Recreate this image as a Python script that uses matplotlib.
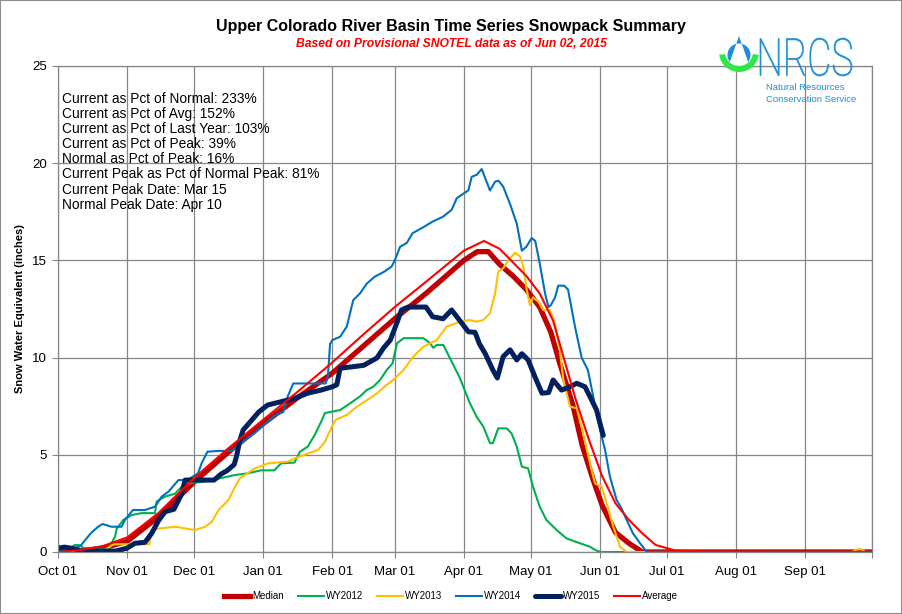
import numpy as np
import matplotlib
matplotlib.use('Agg')
import matplotlib.pyplot as plt
from matplotlib.font_manager import FontProperties
from matplotlib.textpath import TextPath
from matplotlib.patches import PathPatch, Rectangle, Polygon, Wedge
from matplotlib.transforms import Affine2D

plt.rcParams['font.family'] = ['Liberation Sans', 'DejaVu Sans']

# x = day of water year (0 = Oct 01), y = snow water equivalent (inches)
month_days = [0, 31, 61, 92, 123, 151, 182, 212, 243, 273, 304, 335, 365]
month_labels = ['Oct 01', 'Nov 01', 'Dec 01', 'Jan 01', 'Feb 01', 'Mar 01', 'Apr 01',
                'May 01', 'Jun 01', 'Jul 01', 'Aug 01', 'Sep 01', '']

median_day = [0, 10, 20, 31, 45, 61, 76, 92, 107, 123, 137, 151, 165, 182, 188, 193, 198,
              204, 210, 216, 221, 225, 231, 235, 240, 244, 250, 256, 262, 365]
median_swe = [0, 0.05, 0.2, 0.55, 1.8, 3.6, 5.1, 6.6, 7.9, 9.2, 10.6, 12.0, 13.3, 15.0, 15.45,
              15.45, 14.8, 14.2, 13.5, 12.6, 11.3, 9.7, 7.5, 5.5, 3.7, 2.4, 1.0, 0.45, 0.0, 0.0]

avg_day = [0, 10, 20, 31, 45, 61, 76, 92, 107, 123, 137, 151, 165, 182, 191, 198, 204, 210,
           216, 222, 226, 232, 238, 244, 250, 256, 262, 268, 277, 290, 365]
avg_swe = [0, 0.1, 0.3, 0.75, 2.0, 3.8, 5.3, 6.8, 8.2, 9.75, 11.2, 12.6, 13.9, 15.5, 16.0,
           15.6, 14.9, 14.2, 13.3, 11.9, 10.3, 7.9, 5.8, 3.9, 2.5, 1.65, 0.96, 0.36, 0.07, 0.02, 0.0]

wy2012_day = [0, 5, 7.6, 10, 11.5, 23, 24, 25.6, 26.3, 29.3, 33, 37.5, 43.5, 44.2, 48, 52.5,
              55.5, 60, 64, 69, 73, 79.4, 85.3, 91, 97, 100, 106, 108.5, 112, 115, 118, 119.7,
              122, 126.5, 131, 135.4, 138.4, 141.4, 144.4, 147.4, 150, 152, 155, 163.8, 166.8,
              168.3, 169.8, 172.8, 175.8, 180, 184.7, 187.7, 190.7, 193.7, 195, 197.4, 201.2,
              203.4, 205.7, 208, 210.8, 213, 216, 219, 223.6, 228, 234, 238.5, 241.5, 243.5, 365]
wy2012_swe = [0.1, 0.2, 0.36, 0.35, 0.2, 0.15, 0.45, 0.8, 1.2, 1.65, 1.9, 2.0, 2.0, 2.6, 2.85,
              3.0, 3.36, 3.55, 3.6, 3.7, 3.8, 3.96, 4.05, 4.2, 4.2, 4.56, 4.6, 5.16, 5.42, 6.0,
              6.7, 7.15, 7.2, 7.3, 7.65, 8.0, 8.33, 8.5, 8.85, 9.36, 9.7, 10.74, 11.0, 11.0,
              10.75, 10.5, 10.65, 10.65, 9.96, 9.0, 7.65, 6.96, 6.45, 5.6, 5.6, 6.36, 6.36, 6.1,
              5.42, 4.39, 4.3, 3.36, 2.33, 1.65, 1.13, 0.7, 0.45, 0.27, 0.07, 0, 0]

wy2013_day = [0, 20, 25, 41, 42, 45, 52.5, 61.4, 66, 69, 72, 76.4, 79.4, 81.6, 88.3, 94.3, 103,
              106, 112, 116.7, 119.7, 123, 124.5, 129.5, 134, 138.4, 143, 147.4, 150.4, 154.9,
              159.3, 163.8, 169.8, 174.3, 177, 180.2, 184.7, 187.7, 190.7, 193.7, 196, 197.4,
              199.7, 201.9, 205, 207.2, 208.6, 210.2, 211.6, 213, 215.4, 217.6, 220.6, 222.9,
              225, 226.6, 229.6, 232.6, 235.5, 239.3, 240.8, 243.8, 246, 249, 252, 255, 356,
              358, 360, 362, 365]
wy2013_swe = [0, 0.05, 0.4, 0.4, 1.13, 1.2, 1.3, 1.13, 1.3, 1.56, 2.16, 2.67, 3.36, 3.8, 4.3,
              4.56, 4.65, 4.8, 5.07, 5.25, 5.67, 6.5, 6.8, 7.05, 7.47, 7.8, 8.16, 8.6, 8.85,
              9.36, 10.05, 10.56, 10.9, 11.6, 11.7, 11.85, 11.93, 11.85, 11.93, 12.28, 13.3,
              14.42, 14.6, 15.0, 15.4, 15.2, 14.68, 13.48, 12.7, 13.1, 12.87, 12.45, 12.45,
              11.76, 10.4, 8.85, 7.47, 7.4, 6.1, 4.2, 3.53, 3.36, 2.5, 1.3, 0.27, 0, 0, 0.12,
              0.15, 0, 0]

wy2014_day = [0, 5, 10, 13.5, 15, 18, 20, 24, 28.5, 30, 33.6, 39, 43.5, 46.5, 49.5, 54, 58,
              62.8, 64.4, 67, 72, 78, 81, 88, 93, 97, 101, 103, 105.5, 120, 121, 122, 123,
              126.5, 129.5, 131, 132.4, 135.4, 138.4, 142, 146, 149.6, 151, 153.4, 156.4, 159,
              163.7, 168, 172.7, 176.5, 178.8, 182, 184, 185.5, 187.7, 190, 192, 193.7, 196,
              197.5, 199.6, 202.7, 205.7, 208, 210, 212.4, 214, 216, 218.4, 219.9, 221, 222.9,
              224.3, 227, 228.7, 231.8, 234.8, 237.6, 240, 241.5, 243.8, 245.3, 247.5, 250.5,
              252.7, 255, 257.8, 261, 264, 365]
wy2014_swe = [0.1, 0.1, 0.3, 0.8, 1.0, 1.3, 1.44, 1.3, 1.3, 1.65, 2.16, 2.16, 2.33, 2.85, 3.1,
              3.7, 3.7, 4.05, 4.56, 5.16, 5.2, 5.2, 5.5, 6.1, 6.6, 7.0, 7.2, 8.0, 8.67, 8.67,
              9.0, 10.7, 10.9, 11.07, 11.6, 12.3, 12.96, 13.3, 13.8, 14.16, 14.4, 14.68, 15.0,
              15.7, 15.9, 16.4, 16.7, 17.0, 17.25, 17.6, 18.2, 18.45, 18.6, 19.3, 19.4, 19.7,
              19.1, 18.6, 19.05, 19.1, 18.8, 17.9, 16.9, 15.5, 15.7, 16.15, 16.0, 14.85, 13.3,
              12.6, 12.7, 13.1, 13.7, 13.7, 13.5, 11.6, 10.0, 9.36, 8.0, 7.15, 5.93, 5.25,
              3.87, 2.67, 2.24, 1.65, 0.96, 0.45, 0, 0]

wy2015_day = [0, 3, 8, 10, 26, 31, 34.5, 39, 42, 45, 48, 52, 55.5, 57, 61, 70, 73, 76, 79, 80,
              81.6, 83, 87, 90, 94, 100, 106, 112, 118, 123, 125, 126.5, 137, 143, 146, 149,
              152, 154, 157, 165, 168, 172.7, 176.5, 180, 184, 187, 189, 191.6, 195, 197,
              199.6, 202.7, 205.7, 208, 210.8, 213.9, 217, 220, 222, 225.8, 229.6, 232.6,
              236.3, 238.5, 241.5, 243, 244.5]
wy2015_swe = [0.2, 0.25, 0.15, 0.05, 0.05, 0.2, 0.45, 0.5, 0.96, 1.6, 2.07, 2.2, 3.0, 3.7, 3.7,
              3.7, 4.0, 4.2, 4.5, 4.9, 5.76, 6.27, 6.8, 7.2, 7.56, 7.73, 7.9, 8.17, 8.33, 8.5,
              8.6, 9.45, 9.6, 9.98, 10.5, 10.9, 11.8, 12.45, 12.6, 12.6, 12.1, 12.0, 12.45,
              11.93, 11.33, 11.3, 10.7, 10.2, 9.36, 8.95, 10.05, 10.4, 9.88, 10.2, 9.88, 9.0,
              8.17, 8.2, 8.85, 8.33, 8.5, 8.68, 8.5, 8.0, 7.3, 6.63, 6.0]

stats_lines = ['Current as Pct of Normal: 233%',
               'Current as Pct of Avg: 152%',
               'Current as Pct of Last Year: 103%',
               'Current as Pct of Peak: 39%',
               'Normal as Pct of Peak: 16%',
               'Current Peak as Pct of Normal Peak: 81%',
               'Current Peak Date: Mar 15',
               'Normal Peak Date: Apr 10']

W, H = 902, 614
fig = plt.figure(figsize=(W / 100, H / 100), dpi=100)
ax = fig.add_axes([58 / W, 1 - 552 / H, 814 / W, 486 / H])

grid_c = '#868686'
ax.plot(median_day, median_swe, color='#C00000', lw=3.8, label='Median', solid_joinstyle='round')
ax.plot(wy2012_day, wy2012_swe, color='#00B050', lw=1.5, label='WY2012', solid_joinstyle='round')
ax.plot(wy2013_day, wy2013_swe, color='#FFC000', lw=1.5, label='WY2013', solid_joinstyle='round')
ax.plot(wy2014_day, wy2014_swe, color='#0070C0', lw=1.5, label='WY2014', solid_joinstyle='round')
ax.plot(wy2015_day, wy2015_swe, color='#002060', lw=3.6, label='WY2015', solid_joinstyle='round',
        solid_capstyle='round')
ax.plot(avg_day, avg_swe, color='#FF0000', lw=1.5, label='Average', solid_joinstyle='round')

ax.set_xlim(0, 365)
ax.set_ylim(0, 25)
ax.set_xticks(month_days)
ax.set_xticklabels(month_labels)
ax.set_yticks(range(0, 26, 5))
ax.grid(True, color=grid_c, lw=0.9)
ax.set_axisbelow(True)
for s in ax.spines.values():
    s.set_color(grid_c)
    s.set_linewidth(0.9)
ax.tick_params(axis='x', direction='out', length=4, color=grid_c, labelsize=9.5, pad=6)
ax.tick_params(axis='y', direction='out', length=4, color=grid_c, labelsize=9.6, pad=4)
ax.set_ylabel('Snow Water Equivalent (inches)', fontsize=8, fontweight='bold', labelpad=5)

# legend along the bottom
fig.legend(loc='center', bbox_to_anchor=(0.5, 1 - 596 / H), ncol=6, frameon=False,
           fontsize=7, handlelength=2.7, handletextpad=0.2, columnspacing=1.4)

# titles
fig.text(0.5, 1 - 27 / H, 'Upper Colorado River Basin Time Series Snowpack Summary',
         ha='center', va='center', fontsize=11.5, fontweight='bold')
fig.text(0.5, 1 - 44 / H, 'Based on Provisional SNOTEL data as of Jun 02, 2015',
         ha='center', va='center', fontsize=8.7, fontweight='bold', style='italic', color='#FF0000')

# overlay in pixel coordinates for text block and logo
ov = fig.add_axes([0, 0, 1, 1], zorder=5)
ov.set_xlim(0, W)
ov.set_ylim(H, 0)
ov.axis('off')
ov.patch.set_alpha(0)

for i, line in enumerate(stats_lines):
    ov.text(62, 99 + i * 15.1, line, ha='left', va='center', fontsize=9.9)

# NRCS logo
blue = '#1B8FD8'
green = '#2EE84A'


def drop(cx, cy, r, tip_y, n=60):
    d = cy - tip_y
    phi = np.arccos(r / d)
    ang = np.linspace(-np.pi / 2 + phi, 3 * np.pi / 2 - phi, n)
    pts = [(cx, tip_y)] + [(cx + r * np.cos(a), cy - r * np.sin(a)) for a in ang[::-1]]
    return pts


ov.add_patch(Wedge((739, 52), 20, 8, 172, width=6, facecolor=green, edgecolor='none'))
ov.add_patch(Polygon(drop(739, 55, 11.5, 36), closed=True, facecolor=blue, edgecolor='none'))
ov.add_patch(Polygon(drop(739, 57, 5.0, 47.5), closed=True, facecolor='white', edgecolor='none'))

tp = TextPath((0, 0), 'NRCS', size=10, prop=FontProperties(family='Roboto', weight='light'))
ext = tp.get_extents()
tr = Affine2D().translate(-ext.x0, -ext.y0).scale(92 / ext.width, -38 / ext.height).translate(760, 76)
ov.add_patch(PathPatch(tr.transform_path(tp), facecolor=blue, edgecolor=blue, lw=0.5))
ov.text(766, 88, 'Natural Resources', color=blue, fontsize=6.8, ha='left', va='center')
ov.text(766, 100, 'Conservation Service', color=blue, fontsize=6.8, ha='left', va='center')

# outer frame
fig.patches.append(Rectangle((0, 0), 1, 1, transform=fig.transFigure, fill=False,
                             edgecolor='#8c8c8c', lw=1.5))

fig.savefig('out.png', dpi=100)
